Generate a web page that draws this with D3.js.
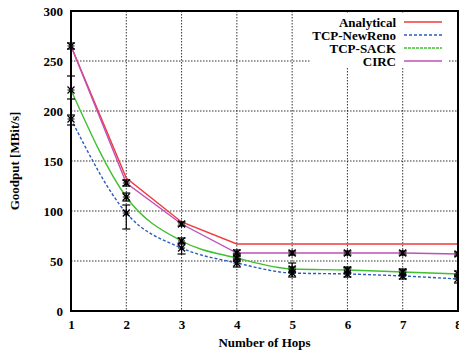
<!DOCTYPE html>
<html>
<head>
    <meta charset="utf-8">
    <title>Goodput vs Number of Hops</title>
    <script src="https://d3js.org/d3.v7.min.js"></script>
    <style>
        body { margin: 0; background: #fff; }
        text { font-family: "Liberation Serif", "Times New Roman", serif; font-weight: bold; fill: #000; }
    </style>
</head>
<body>
    <script>
        // data
        var hops = [1, 2, 3, 4, 5, 6, 7, 8];
        var yTicks = [0, 50, 100, 150, 200, 250, 300];

        var analytical = [265, 133, 89, 67, 67, 67, 67, 67];
        var newReno    = [192, 98, 63, 48, 38, 37, 35, 32];
        var newRenoLo  = [186, 82, 57, 44, 34, 34, 32, 28];
        var newRenoHi  = [196, 106, 68, 52, 44, 43, 41, 36];
        var sack       = [221, 114, 70, 53, 42, 41, 39, 37];
        var sackLo     = [212, 110, 67, 50, 39, 38, 36, 35];
        var sackHi     = [235, 118, 73, 57, 48, 44, 42, 40];
        var circ       = [265, 128, 87, 58, 58, 58, 58, 57];
        var circLo     = [262, 125, 85, 55, 56, 56, 56, 55];
        var circHi     = [268, 131, 89, 61, 60, 60, 60, 59];

        var series = [
            {name: "Analytical",  values: analytical, color: "#f03a3a", dash: null,  curve: d3.curveLinear},
            {name: "TCP-NewReno", values: newReno,    color: "#2a5cc0", dash: "3,2", curve: d3.curveMonotoneX, lo: newRenoLo, hi: newRenoHi},
            {name: "TCP-SACK",    values: sack,       color: "#40c030", dash: null,  legendDash: "3,1", curve: d3.curveMonotoneX, lo: sackLo, hi: sackHi},
            {name: "CIRC",        values: circ,       color: "#c050b8", dash: null,  curve: d3.curveLinear, lo: circLo, hi: circHi}
        ];

        var width = 459, height = 354;
        var pLeft = 71, pRight = 458, pTop = 11, pBottom = 311;
        var fontSize = "13px";

        var svg = d3.select("body")
                    .append("svg")
                    .attr("width", width)
                    .attr("height", height);

        var x = d3.scaleLinear().domain([1, 8]).range([pLeft, pRight]);
        var y = d3.scaleLinear().domain([0, 300]).range([pBottom, pTop]);

        // grid
        var grid = svg.append("g")
                      .attr("stroke", "#000")
                      .attr("stroke-width", 1)
                      .attr("stroke-dasharray", "1.5,1.5")
                      .attr("stroke-opacity", 0.8);
        grid.selectAll("line.gx")
            .data(hops.slice(1, -1))
            .join("line")
            .attr("class", "gx")
            .attr("x1", d => x(d)).attr("x2", d => x(d))
            .attr("y1", pTop).attr("y2", pBottom);
        grid.selectAll("line.gy")
            .data(yTicks.slice(1, -1))
            .join("line")
            .attr("class", "gy")
            .attr("x1", pLeft).attr("x2", pRight)
            .attr("y1", d => y(d)).attr("y2", d => y(d));

        // axes
        var xAxis = d3.axisBottom(x).tickValues(hops).tickFormat(d3.format("d")).tickSize(0).tickPadding(9);
        var yAxis = d3.axisLeft(y).tickValues(yTicks).tickFormat(d3.format("d")).tickSize(0).tickPadding(8);

        svg.append("g")
           .attr("transform", "translate(0," + pBottom + ")")
           .call(xAxis)
           .call(g => g.select(".domain").remove())
           .selectAll("text").style("font-size", fontSize).style("font-family", "Liberation Serif");
        svg.append("g")
           .attr("transform", "translate(" + pLeft + ",0)")
           .call(yAxis)
           .call(g => g.select(".domain").remove())
           .selectAll("text").style("font-size", fontSize).style("font-family", "Liberation Serif");

        // series lines
        series.forEach(function(s) {
            var line = d3.line()
                         .x((d, i) => x(hops[i]))
                         .y(d => y(d))
                         .curve(s.curve);
            svg.append("path")
               .datum(s.values)
               .attr("fill", "none")
               .attr("stroke", s.color)
               .attr("stroke-width", 1.4)
               .attr("stroke-dasharray", s.dash)
               .attr("d", line);
        });

        // error bars and markers
        series.filter(s => s.lo).forEach(function(s) {
            var g = svg.append("g").attr("stroke", "#000").attr("stroke-width", 1.2);
            hops.forEach(function(h, i) {
                var cx = x(h);
                g.append("line").attr("x1", cx).attr("x2", cx).attr("y1", y(s.lo[i])).attr("y2", y(s.hi[i]));
                g.append("line").attr("x1", cx - 4).attr("x2", cx + 4).attr("y1", y(s.lo[i])).attr("y2", y(s.lo[i]));
                g.append("line").attr("x1", cx - 4).attr("x2", cx + 4).attr("y1", y(s.hi[i])).attr("y2", y(s.hi[i]));
                var cy = y(s.values[i]), r = 3.5;
                g.append("path")
                 .attr("d", "M" + (cx - r) + "," + cy + "H" + (cx + r) +
                            "M" + cx + "," + (cy - r) + "V" + (cy + r) +
                            "M" + (cx - r) + "," + (cy - r) + "L" + (cx + r) + "," + (cy + r) +
                            "M" + (cx - r) + "," + (cy + r) + "L" + (cx + r) + "," + (cy - r));
            });
        });

        // frame
        svg.append("rect")
           .attr("x", pLeft).attr("y", pTop)
           .attr("width", pRight - pLeft).attr("height", pBottom - pTop)
           .attr("fill", "none")
           .attr("stroke", "#000")
           .attr("stroke-width", 2);

        // legend
        var legend = svg.append("g");
        legend.append("rect")
              .attr("x", 310).attr("y", 14)
              .attr("width", 139).attr("height", 54)
              .attr("fill", "#fff");
        var item = legend.selectAll("g")
                         .data(series)
                         .join("g")
                         .attr("transform", (d, i) => "translate(0," + (22 + i * 13) + ")");
        item.append("text")
            .attr("x", 396)
            .attr("dy", "0.35em")
            .attr("text-anchor", "end")
            .style("font-size", fontSize)
            .text(d => d.name);
        item.append("line")
            .attr("x1", 404).attr("x2", 442)
            .attr("stroke", d => d.color)
            .attr("stroke-width", 1.4)
            .attr("stroke-dasharray", d => d.legendDash || d.dash);

        // axis titles
        svg.append("text")
           .attr("x", (pLeft + pRight) / 2)
           .attr("y", 347)
           .attr("text-anchor", "middle")
           .style("font-size", fontSize)
           .text("Number of Hops");
        svg.append("text")
           .attr("transform", "translate(19," + ((pTop + pBottom) / 2) + ") rotate(-90)")
           .attr("text-anchor", "middle")
           .style("font-size", fontSize)
           .text("Goodput [MBit/s]");
    </script>
</body>
</html>
